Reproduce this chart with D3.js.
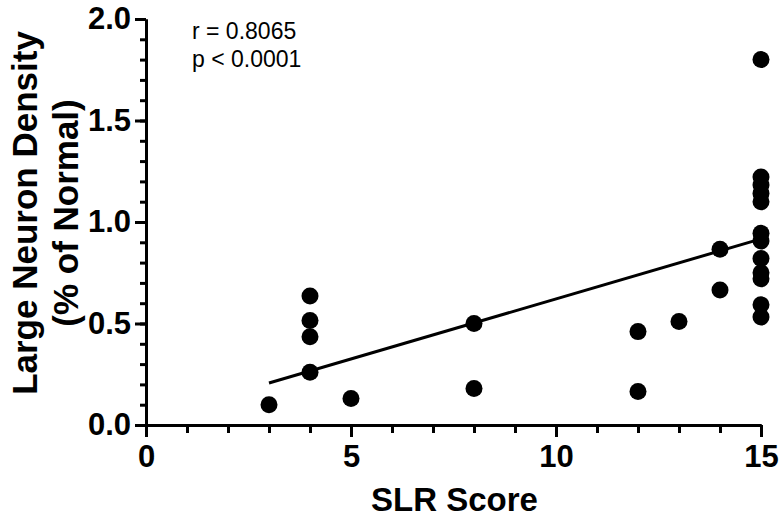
<!DOCTYPE html>
<html>
<head>
<meta charset="utf-8">
<script src="https://d3js.org/d3.v7.min.js"></script>
<style>
  body { margin: 0; background: #fff; }
  text { font-family: Arial, "Liberation Sans", sans-serif; }
</style>
</head>
<body>
<script>
// data
const slrScore = [3, 4, 4, 4, 4, 5, 8, 8, 12, 12, 13, 14, 14,
                  15, 15, 15, 15, 15, 15, 15, 15, 15, 15, 15, 15];
const density  = [0.10, 0.635, 0.515, 0.435, 0.26, 0.13, 0.50, 0.18, 0.46, 0.165, 0.51, 0.866, 0.665,
                  1.80, 1.222, 1.182, 1.141, 1.10, 0.944, 0.906, 0.82, 0.75, 0.72, 0.592, 0.532];
const fitX = [3, 15];
const fitY = [0.207, 0.917];
const xTicks = [0, 5, 10, 15];
const yTicks = [0, 0.5, 1.0, 1.5, 2.0];
const statLines = ["r = 0.8065", "p < 0.0001"];

var margin = {top: 19, right: 22, bottom: 96, left: 146},
    width = 783 - margin.left - margin.right,
    height = 521 - margin.top - margin.bottom;

const svg = d3.select('body')
    .append("svg")
        .attr("width", 783)
        .attr("height", 521)

const g = svg.append("g")
    .attr("transform", `translate(${margin.left},${margin.top})`)

const x = d3.scaleLinear()
    .domain([0, 15])
    .range([0, width]);

const y = d3.scaleLinear()
    .domain([0, 2])
    .range([height, 0]);

// minor ticks
g.append("g")
    .attr("class", "minor")
    .attr("transform", `translate(0,${height})`)
    .call(d3.axisBottom(x).tickValues(d3.range(0, 16)).tickSize(8).tickSizeOuter(0).tickFormat(""))
g.append("g")
    .attr("class", "minor")
    .call(d3.axisLeft(y).tickValues(d3.range(0, 21).map(d => d / 10)).tickSize(6).tickSizeOuter(0).tickFormat(""))

// major ticks + labels
const xAxis = g.append("g")
    .attr("transform", `translate(0,${height})`)
    .call(d3.axisBottom(x).tickValues(xTicks).tickSize(12).tickSizeOuter(0).tickPadding(8).tickFormat(d3.format("d")))
const yAxis = g.append("g")
    .call(d3.axisLeft(y).tickValues(yTicks).tickSize(11).tickSizeOuter(0).tickPadding(4).tickFormat(d3.format(".1f")))

g.selectAll(".domain").attr("stroke", "#000").attr("stroke-width", 3)
g.selectAll(".tick line").attr("stroke", "#000").attr("stroke-width", 3)
g.selectAll(".tick text")
    .attr("fill", "#000")
    .style("font-size", "31px")
    .style("font-weight", "bold")

// regression line
g.append("path")
    .datum(fitX.map((d, i) => [d, fitY[i]]))
    .attr("fill", "none")
    .attr("stroke", "#000")
    .attr("stroke-width", 3)
    .attr("d", d3.line().x(d => x(d[0])).y(d => y(d[1])))

// points
g.selectAll("circle")
    .data(slrScore.map((d, i) => ({x: d, y: density[i]})))
    .enter().append("circle")
        .attr("cx", d => x(d.x))
        .attr("cy", d => y(d.y))
        .attr("r", 8.5)
        .attr("fill", "#000")

// stats text
g.selectAll(".stat")
    .data(statLines)
    .enter().append("text")
        .attr("class", "stat")
        .attr("x", 46)
        .attr("y", (d, i) => 20 + i * 28)
        .style("font-size", "23px")
        .text(d => d)

// axis titles
svg.append("text")
    .attr("x", margin.left + width / 2 + 1)
    .attr("y", 511)
    .attr("text-anchor", "middle")
    .style("font-size", "33px")
    .style("font-weight", "bold")
    .text("SLR Score")

const yTitle = svg.append("text")
    .attr("transform", "translate(0,213) rotate(-90)")
    .attr("text-anchor", "middle")
    .style("font-size", "35px")
    .style("font-weight", "bold")
yTitle.append("tspan").attr("x", 0).attr("y", 37).text("Large Neuron Density")
yTitle.append("tspan").attr("x", 0).attr("y", 78).text("(% of Normal)")
</script>
</body>
</html>
